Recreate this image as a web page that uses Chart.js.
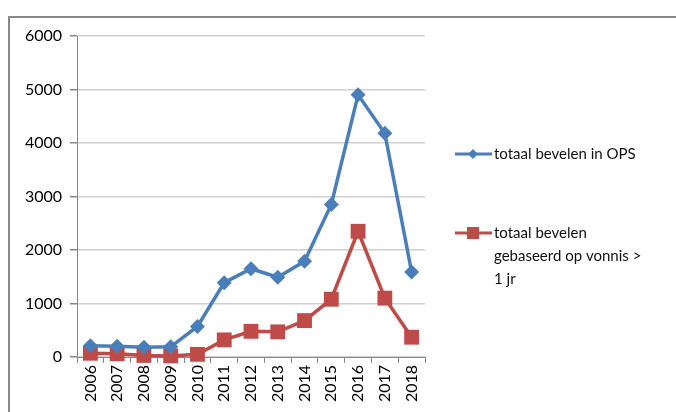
<!DOCTYPE html>
<html>
<head>
<meta charset="utf-8">
<script src="https://cdn.jsdelivr.net/npm/chart.js@4"></script>
<style>
  body { margin: 0; background: #fff; }
  #wrap { width: 676px; height: 412px; position: relative; }
</style>
</head>
<body>
<div id="wrap"><canvas id="myChart" width="676" height="412"></canvas></div>
<script>
const years = ['2006', '2007', '2008', '2009', '2010', '2011', '2012', '2013', '2014', '2015', '2016', '2017', '2018'];
const totaalOPS = [210, 200, 180, 190, 570, 1390, 1650, 1490, 1790, 2850, 4900, 4180, 1590];
const totaalVonnis = [70, 60, 30, 20, 50, 320, 480, 470, 680, 1080, 2350, 1100, 370];
const yTicks = [0, 1000, 2000, 3000, 4000, 5000, 6000];
const legendLines = [
    ['totaal bevelen in OPS'],
    ['totaal bevelen', 'gebaseerd op vonnis >', '1 jr']
];

const FONT = 'Lato';

// frame round the chart + white background
const framePlugin = {
    id: 'frame',
    beforeDraw(chart) {
        const c = chart.ctx;
        c.save();
        c.fillStyle = '#fff';
        c.fillRect(0, 0, chart.width, chart.height);
        c.strokeStyle = '#888';
        c.lineWidth = 2;
        c.beginPath();
        c.moveTo(9, chart.height);
        c.lineTo(9, 17);
        c.lineTo(chart.width, 17);
        c.stroke();
        c.restore();
    }
};

// legend on the right, wrapped text like the original
const sideLegend = {
    id: 'sideLegend',
    afterDraw(chart) {
        const c = chart.ctx;
        const rows = [154, 233];
        c.save();
        chart.data.datasets.forEach((ds, i) => {
            const y = rows[i];
            c.strokeStyle = ds.borderColor;
            c.lineWidth = 3;
            c.beginPath();
            c.moveTo(455, y);
            c.lineTo(492, y);
            c.stroke();
            c.fillStyle = ds.borderColor;
            if (ds.pointStyle === 'rectRot') {
                c.beginPath();
                c.moveTo(473, y - 5);
                c.lineTo(478, y);
                c.lineTo(473, y + 5);
                c.lineTo(468, y);
                c.closePath();
                c.fill();
            } else {
                c.fillRect(467, y - 6, 12, 12);
            }
            c.fillStyle = '#111';
            c.font = '15px ' + FONT;
            c.textBaseline = 'middle';
            legendLines[i].forEach((t, j) => {
                c.fillText(t, 494, y + j * 23);
            });
        });
        c.restore();
    }
};

const ctx = document.getElementById('myChart');
const chart = new Chart(ctx, {
    type: 'line',
    data: {
        labels: years,
        datasets: [{
            label: 'totaal bevelen in OPS',
            data: totaalOPS,
            borderColor: '#4A7EBB',
            backgroundColor: '#4A7EBB',
            borderWidth: 3.5,
            pointStyle: 'rectRot',
            pointRadius: 7.5,
            pointBorderWidth: 0,
            tension: 0,
            clip: false
        }, {
            label: 'totaal bevelen gebaseerd op vonnis > 1 jr',
            data: totaalVonnis,
            borderColor: '#BE4B48',
            backgroundColor: '#BE4B48',
            borderWidth: 3.5,
            pointStyle: 'rect',
            pointRadius: 10.5,
            pointBorderWidth: 0,
            tension: 0,
            clip: false
        }]
    },
    options: {
        responsive: false,
        animation: false,
        layout: {
            padding: { left: 10, top: 36, right: 251, bottom: 0 }
        },
        plugins: {
            legend: { display: false },
            tooltip: { enabled: false }
        },
        scales: {
            x: {
                offset: true,
                grid: {
                    offset: true,
                    drawOnChartArea: false,
                    drawTicks: true,
                    tickLength: 6,
                    color: '#888'
                },
                border: { color: '#888', width: 1 },
                ticks: {
                    color: '#000',
                    minRotation: 90,
                    maxRotation: 90,
                    padding: 2,
                    font: { family: FONT, size: 16 }
                },
                afterFit(scale) { scale.height = 55; }
            },
            y: {
                min: 0,
                max: 6000,
                afterBuildTicks(scale) {
                    scale.ticks = yTicks.map(v => ({ value: v }));
                },
                grid: {
                    color: '#D0D0D0',
                    lineWidth: 1.5,
                    tickLength: 7,
                    tickColor: '#888'
                },
                border: { color: '#888', width: 1 },
                ticks: {
                    color: '#000',
                    padding: 8,
                    font: { family: FONT, size: 16 },
                    callback: v => String(v)
                },
                afterFit(scale) { scale.width = 67; }
            }
        }
    },
    plugins: [framePlugin, sideLegend]
});
</script>
</body>
</html>
